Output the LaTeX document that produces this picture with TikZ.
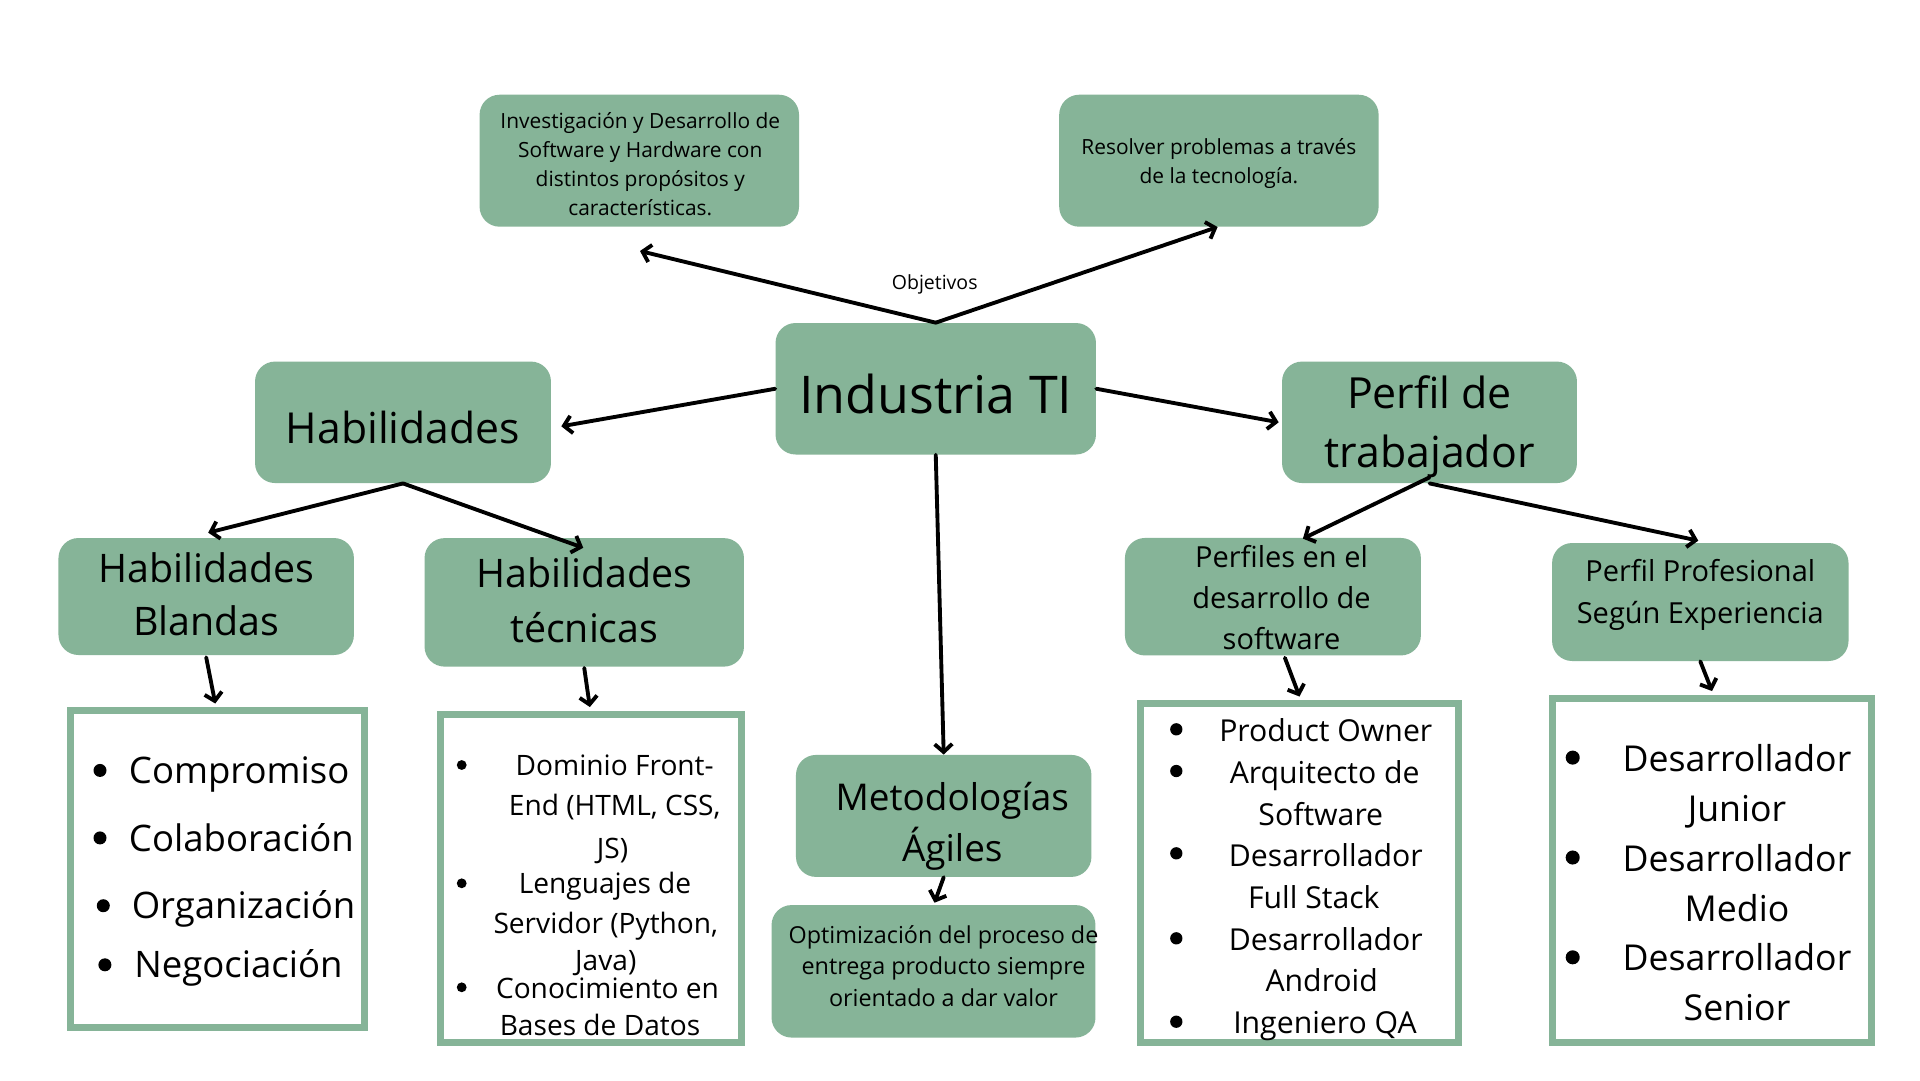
\documentclass[tikz,border=0pt]{standalone}
\usepackage{fontspec}
\setmainfont{Open Sans}
\usetikzlibrary{arrows.meta,calc}
\definecolor{sage}{RGB}{134,180,152}
\newcommand{\fs}[2]{\fontsize{#1}{#2}\selectfont}
\tikzset{
  gbox/.style={fill=sage, rounded corners=0.4cm, inner sep=0pt},
  gtxt/.style={align=center, inner sep=0pt, text=black},
  lbox/.style={draw=sage, line width=4pt, fill=white, inner sep=0pt},
  conn/.style={line width=2.2pt, line cap=round, -{Straight Barb[length=4.5pt,width=10pt]}},
  itm/.style={inner sep=0pt, anchor=base west},
  itc/.style={inner sep=0pt, anchor=base},
  lone/.style={font=\fs{20.8pt}{25pt}},
  ltwo/.style={font=\fs{16pt}{20pt}},
  lthree/.style={font=\fs{17.2pt}{21pt}},
  lfour/.style={font=\fs{20.3pt}{25pt}},
}
\begin{document}
\begin{tikzpicture}[x=0.02cm,y=-0.02cm]
\fill[white] (0,0) rectangle (1920,1080);
\useasboundingbox (0,0) rectangle (1920,1080);

% ---------- green boxes ----------
\node[gbox, minimum width=6.39cm, minimum height=2.64cm] (inv) at (639.3,160.7) {};
\node[gtxt, font=\fs{11.9pt}{16.4pt}] (invt) at ($(inv.center)+(1,3.5)$)
  {Investigación y Desarrollo de\\Software y Hardware con\\distintos propósitos y\\características.};
\node[gbox, minimum width=6.39cm, minimum height=2.64cm] (res) at (1218.9,160.7) {};
\node[gtxt, font=\fs{11.9pt}{16.6pt}] (rest) at ($(res.center)+(0,2.5)$)
  {Resolver problemas a través\\de la tecnología.};
\node[gbox, minimum width=6.41cm, minimum height=2.63cm] (ind) at (935.75,388.75) {};
\node[gtxt, font=\fs{29.6pt}{34pt}] (indt) at ($(ind.center)+(0,5)$) {Industria TI};
\node[gbox, minimum width=5.92cm, minimum height=2.43cm] (hab) at (403,422.3) {};
\node[gtxt, font=\fs{24.3pt}{33.2pt}] (habt) at ($(hab.center)+(0,5)$) {Habilidades};
\node[gbox, minimum width=5.90cm, minimum height=2.43cm] (perfil) at (1429.5,422.3) {};
\node[gtxt, font=\fs{24.4pt}{33.2pt}] (perfilt) at ($(perfil.center)+(0,4.5)$) {Perfil de\\trabajador};
\node[gbox, minimum width=5.91cm, minimum height=2.34cm] (blandas) at (206.2,596.5) {};
\node[gtxt, font=\fs{22.4pt}{30.4pt}] (blandast) at ($(blandas.center)+(0,-2.5)$) {Habilidades\\Blandas};
\node[gbox, minimum width=6.39cm, minimum height=2.57cm] (tecnicas) at (584.25,602.35) {};
\node[gtxt, font=\fs{22.4pt}{31.5pt}] (tecnicast) at ($(tecnicas.center)+(0,-2)$) {Habilidades\\técnicas};
\node[gbox, minimum width=5.92cm, minimum height=2.35cm] (perfiles) at (1272.9,596.7) {};
\node[gtxt, font=\fs{16.5pt}{23.2pt}] (perfilest) at ($(perfiles.center)+(8.6,1)$) {Perfiles en el\\desarrollo de\\software};
\node[gbox, minimum width=5.93cm, minimum height=2.36cm] (pp) at (1700.3,602) {};
\node[gtxt, font=\fs{16.5pt}{23.5pt}] (ppt) at ($(pp.center)+(0,-7)$) {Perfil Profesional\\Según Experiencia};
\node[gbox, minimum width=5.91cm, minimum height=2.44cm] (met) at (943.7,815.9) {};
\node[gtxt, font=\fs{21pt}{28.9pt}] (mett) at ($(met.center)+(8.6,10)$) {Metodologías\\Ágiles};
\node[gbox, minimum width=6.48cm, minimum height=2.65cm] (opt) at (933.5,971.3) {};
\node[gtxt, font=\fs{13.3pt}{18pt}] (optt) at ($(opt.center)+(10,-5.5)$)
  {Optimización del proceso de\\entrega producto siempre\\orientado a dar valor};

% ---------- list boxes ----------
\node[lbox, minimum width=5.89cm, minimum height=6.34cm] (l1) at (217.25,869) {};
\node[lbox, minimum width=6.026cm, minimum height=6.56cm] (l2) at (590.85,878.5) {};
\node[lbox, minimum width=6.348cm, minimum height=6.78cm] (l3) at (1299.5,873) {};
\node[lbox, minimum width=6.38cm, minimum height=6.88cm] (l4) at (1712,870.5) {};

% list 1
\node[itm, lone] (c1) at (128.6,783) {Compromiso};
\node[itm, lone] (c2) at (128.6,851) {Colaboración};
\node[itm, lone] (c3) at (131.4,918.8) {Organización};
\node[itm, lone] (c4) at (133.9,977.9) {Negociación};
\fill (100,770.4) circle (3.7pt);
\fill (100,837.9) circle (3.7pt);
\fill (103.3,905.7) circle (3.7pt);
\fill (104.9,964.8) circle (3.7pt);

% list 2
\node[itc, ltwo] (d1) at (614.7,775.6) {Dominio Front-};
\node[itc, ltwo] (d2) at (614.7,815.6) {End (HTML, CSS,};
\node[itc, ltwo] (d3) at (612.5,858.1) {JS)};
\node[itc, ltwo] (d4) at (605,893.4) {Lenguajes de};
\node[itc, ltwo] (d5) at (605.8,933.4) {Servidor (Python,};
\node[itc, ltwo] (d6) at (605.8,970.6) {Java)};
\node[itc, ltwo] (d7) at (607.5,998.1) {Conocimiento en};
\node[itc, ltwo] (d8) at (600,1035.6) {Bases de Datos};
\fill (461.7,765) circle (2.8pt);
\fill (461.7,883.3) circle (2.8pt);
\fill (461.7,987.3) circle (2.8pt);

% list 3
\node[itc, lthree] (p1) at (1325.8,741.3) {Product Owner};
\node[itc, lthree] (p2) at (1324.7,783.3) {Arquitecto de};
\node[itc, lthree] (p3) at (1320.8,825) {Software};
\node[itc, lthree] (p4) at (1325.8,866.6) {Desarrollador};
\node[itc, lthree] (p5) at (1313.8,908.3) {Full Stack};
\node[itc, lthree] (p6) at (1325.8,950) {Desarrollador};
\node[itc, lthree] (p7) at (1321.7,991.6) {Android};
\node[itc, lthree] (p8) at (1325,1033.3) {Ingeniero QA};
\foreach \yy in {729.3,771,853.3,938.3,1021.7} \fill (1176.3,\yy) circle (3.5pt);

% list 4
\node[itc, lfour] (q1) at (1737,771.5) {Desarrollador};
\node[itc, lfour] (q2) at (1737,821.4) {Junior};
\node[itc, lfour] (q3) at (1737,871.3) {Desarrollador};
\node[itc, lfour] (q4) at (1737,921.3) {Medio};
\node[itc, lfour] (q5) at (1737,970.5) {Desarrollador};
\node[itc, lfour] (q6) at (1737,1020.1) {Senior};
\foreach \yy in {757.6,857.5,957.3} \fill (1572.7,\yy) circle (4pt);

% ---------- connectors ----------
\coordinate (invtip) at (640,251);
\coordinate (restip) at (1217.6,227);
\draw[conn] (ind.north) -- (invtip);
\draw[conn] (ind.north) -- (restip);
\node[font=\fs{11.1pt}{13pt}] (obj) at (934.7,284.5) {Objetivos};

\draw[conn] (ind.west) -- ($(hab.east)+(10,4)$);
\draw[conn] (ind.east) -- ($(perfil.west)+(-3,0)$);
\draw[conn] (ind.south) -- (met.north);

\draw[conn] (hab.south) -- ($(blandas.north)+(2,-5)$);
\draw[conn] (hab.south) -- ($(tecnicas.north)+(-1,10)$);
\draw[conn] ($(perfil.south)+(0,-6)$) -- ($(perfiles.north)+(30,1)$);
\draw[conn] (perfil.south) -- ($(pp.north)+(-2,-2)$);

\draw[conn] ($(blandas.south)+(0,2)$) -- ($(l1.north)+(-2,-3.5)$);
\draw[conn] ($(tecnicas.south)+(0,1)$) -- ($(l2.north)+(-1,-4)$);
\draw[conn] (met.south) -- ($(opt.north)+(1,-2)$);
\draw[conn] ($(perfiles.south)+(12,2)$) -- ($(l3.north)+(0,-3.5)$);
\draw[conn] (pp.south) -- ($(l4.north)+(0,-4)$);
\end{tikzpicture}
\end{document}
